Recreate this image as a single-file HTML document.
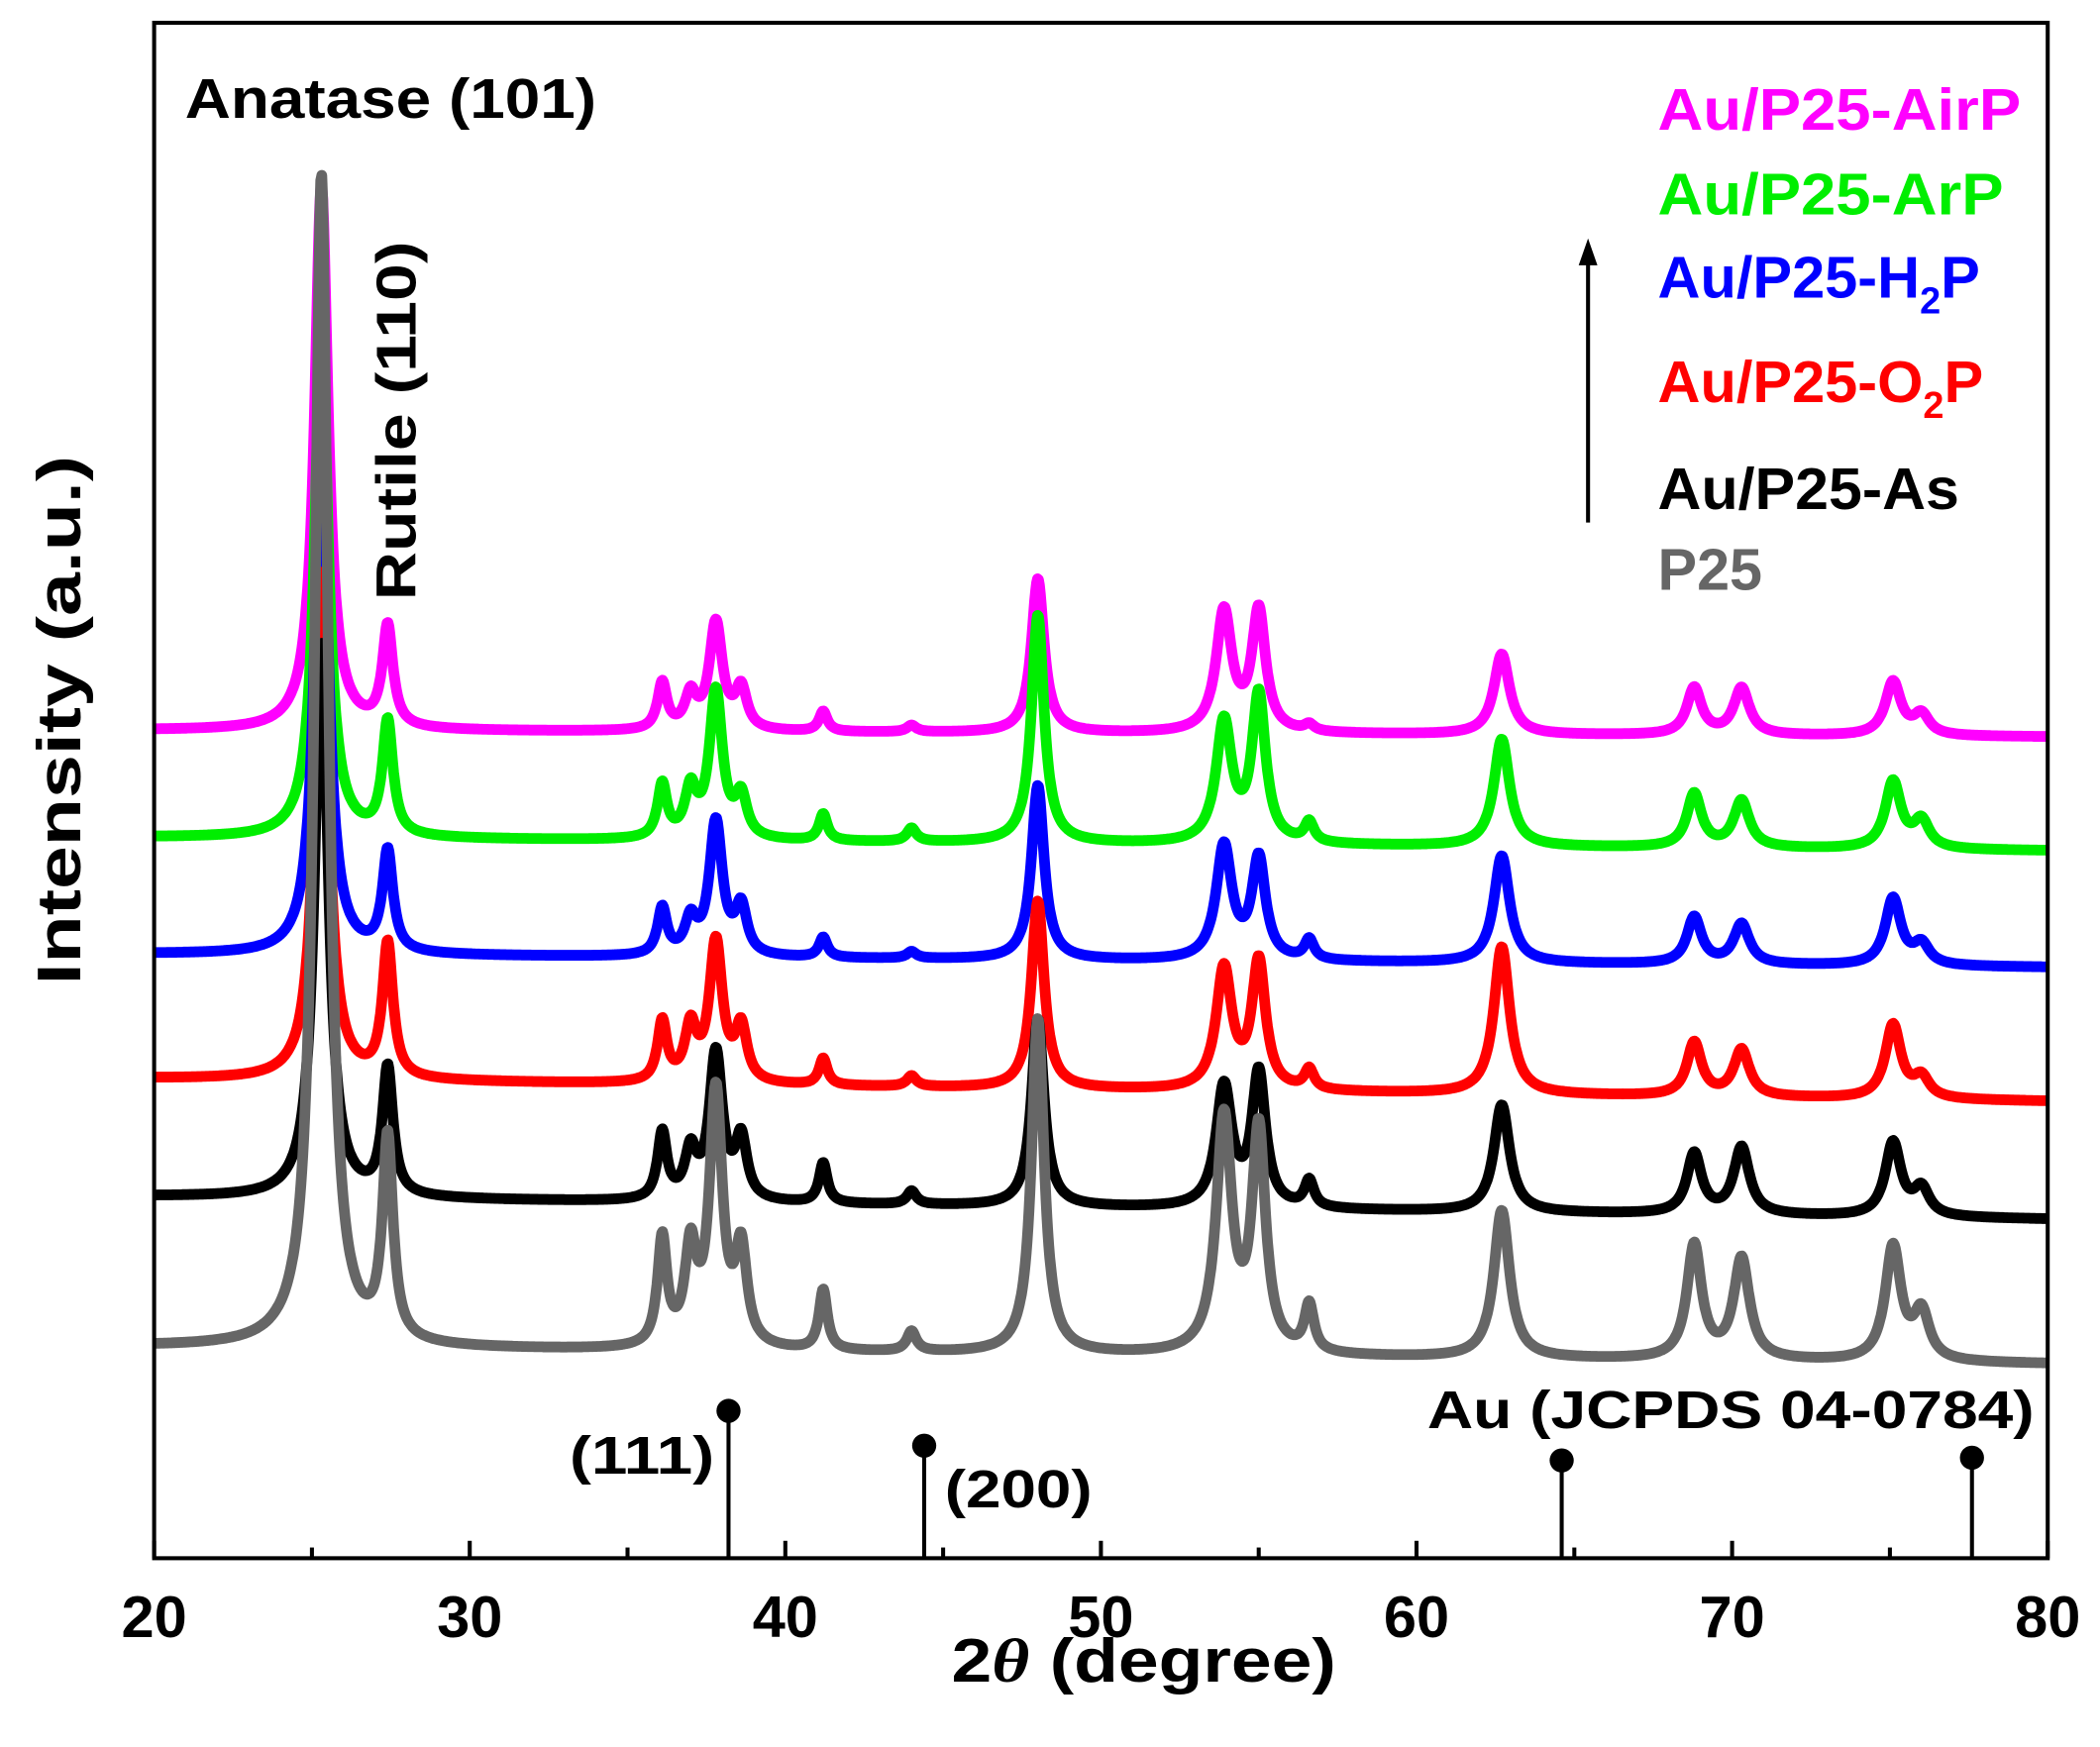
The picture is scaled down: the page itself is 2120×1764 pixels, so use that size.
<!DOCTYPE html>
<html><head><meta charset="utf-8"><style>
html,body{margin:0;padding:0;background:#fff;}
svg{display:block;}
text{font-family:"Liberation Sans",Arial,sans-serif;font-weight:bold;}
.serif{font-family:"Liberation Serif","Times New Roman",serif;font-weight:bold;}
</style></head><body>
<svg id="chart" width="2120" height="1764" viewBox="0 0 1567 1303.9" xmlns="http://www.w3.org/2000/svg">
<rect x="0" y="0" width="1567" height="1304" fill="#fff"/>
<g id="series"></g>
<g id="au-sticks"></g>
<rect x="115" y="17" width="1413" height="1146" fill="none" stroke="#000" stroke-width="3"/>
<g id="ticks"></g>
<text x="710" y="1255" textLength="287" lengthAdjust="spacingAndGlyphs" font-size="46">2<tspan font-family="Liberation Serif" font-style="italic">θ</tspan> (degree)</text>
<text transform="translate(60,735) rotate(-90)" textLength="395" lengthAdjust="spacingAndGlyphs" font-size="46">Intensity (a.u.)</text>
<text x="138" y="88" textLength="307" lengthAdjust="spacingAndGlyphs" font-size="42">Anatase (101)</text>
<text transform="translate(310,448) rotate(-90)" textLength="268" lengthAdjust="spacingAndGlyphs" font-size="42">Rutile (110)</text>
<text x="425" y="1100" textLength="108" lengthAdjust="spacingAndGlyphs" font-size="40">(111)</text>
<text x="705" y="1125" textLength="110" lengthAdjust="spacingAndGlyphs" font-size="40">(200)</text>
<text x="1065" y="1066" textLength="453" lengthAdjust="spacingAndGlyphs" font-size="40">Au (JCPDS 04-0784)</text>
<line x1="1185" y1="390" x2="1185" y2="195" stroke="#000" stroke-width="3"/>
<polygon points="1185,178 1178,198 1192,198" fill="#000"/>
<g class="serif" font-size="44">
<text x="1237" y="97" textLength="271" lengthAdjust="spacingAndGlyphs" fill="#ff00ff">Au/P25-AirP</text>
<text x="1237" y="160" textLength="258" lengthAdjust="spacingAndGlyphs" fill="#00ee00">Au/P25-ArP</text>
<text x="1237" y="222" fill="#0000ff">Au/P25-H<tspan font-size="28" dy="12">2</tspan><tspan dy="-12">P</tspan></text>
<text x="1237" y="300" fill="#ff0000">Au/P25-O<tspan font-size="28" dy="12">2</tspan><tspan dy="-12">P</tspan></text>
<text x="1237" y="380" textLength="225" lengthAdjust="spacingAndGlyphs" fill="#000">Au/P25-As</text>
<text x="1237" y="440" textLength="78" lengthAdjust="spacingAndGlyphs" fill="#666">P25</text>
</g>
</svg>
<script>
const peakPos = [25.3,27.4,36.1,37.0,37.8,38.6,41.2,44.0,48.0,53.9,55.0,56.6,62.7,68.8,70.3,75.1,76.0];
const peakWid = [0.26,0.2,0.18,0.22,0.25,0.22,0.16,0.18,0.24,0.3,0.26,0.18,0.3,0.28,0.3,0.3,0.3];
const seriesNames = ["airp","arp","h2p","o2p","as","p25"];
const seriesColors = ["#ff00ff","#00ee00","#0000ff","#ff0000","#000000","#666666"];
const baseLeft = [545,625,712,805,893,1005];
const baseRight = [550,635,722,822,910,1018];
const hAirP = [406,75,35,25,80,30,15,5,115,90,90,5,60,35,35,40,15];
const hArP  = [378,85,40,35,110,30,20,10,170,90,110,15,80,40,35,50,20];
const hH2P  = [388,75,35,25,100,35,15,5,130,85,75,15,80,35,30,50,15];
const hO2P  = [379,100,45,40,105,40,20,8,140,90,95,15,110,40,35,55,15];
const hAs   = [414,95,50,35,110,45,30,10,140,90,100,20,80,45,50,55,20];
const hP25  = [875,150,80,70,190,70,45,15,250,175,165,35,110,85,75,85,35];
const heights = [hAirP,hArP,hH2P,hO2P,hAs,hP25];
const auPos = [38.2,44.4,64.6,77.6];
const auTop = [1053,1079,1090,1088];
const xTicks = [20,30,40,50,60,70,80];

const X0=115,X1=1528,Y1=1163;
const xs = d => X0 + (d-20)/60*(X1-X0);
const NS="http://www.w3.org/2000/svg";
const gS=document.getElementById('series');
for(let s=0;s<6;s++){
  let pts=[];
  for(let d=20;d<=80.0001;d+=0.03){
    let b = baseLeft[s] + (baseRight[s]-baseLeft[s])*(d-20)/60;
    let y=b;
    for(let k=0;k<peakPos.length;k++){
      const u=(d-peakPos[k])/peakWid[k];
      y -= heights[s][k]/(1+u*u);
    }
    pts.push(xs(d).toFixed(1)+','+y.toFixed(1));
  }
  const p=document.createElementNS(NS,'polyline');
  p.setAttribute('points',pts.join(' '));
  p.setAttribute('fill','none');
  p.setAttribute('stroke',seriesColors[s]);
  p.setAttribute('stroke-width','8');
  p.setAttribute('stroke-linejoin','round');
  
  
  gS.appendChild(p);
}
const gA=document.getElementById('au-sticks');
for(let i=0;i<auPos.length;i++){
  const l=document.createElementNS(NS,'line');
  l.setAttribute('x1',xs(auPos[i]));l.setAttribute('x2',xs(auPos[i]));
  l.setAttribute('y1',auTop[i]);l.setAttribute('y2',Y1);
  l.setAttribute('stroke','#000');l.setAttribute('stroke-width','3');
  
  
  gA.appendChild(l);
  const c=document.createElementNS(NS,'circle');
  c.setAttribute('cx',xs(auPos[i]));c.setAttribute('cy',auTop[i]);c.setAttribute('r','9');
  c.setAttribute('fill','#000');
  
  
  gA.appendChild(c);
}
const gT=document.getElementById('ticks');
for(let v=20;v<=80;v+=5){
  const major=(v%10===0);
  const l=document.createElementNS(NS,'line');
  l.setAttribute('x1',xs(v));l.setAttribute('x2',xs(v));
  l.setAttribute('y1',Y1);l.setAttribute('y2',Y1-(major?13:8));
  l.setAttribute('stroke','#000');l.setAttribute('stroke-width','3');
  
  
  gT.appendChild(l);
}
for(const v of xTicks){
  const t=document.createElementNS(NS,'text');
  t.setAttribute('x',xs(v));t.setAttribute('y',1222);
  t.setAttribute('text-anchor','middle');t.setAttribute('font-size','44');
  t.textContent=v;
  
  
  gT.appendChild(t);
}
</script>
</body></html>
